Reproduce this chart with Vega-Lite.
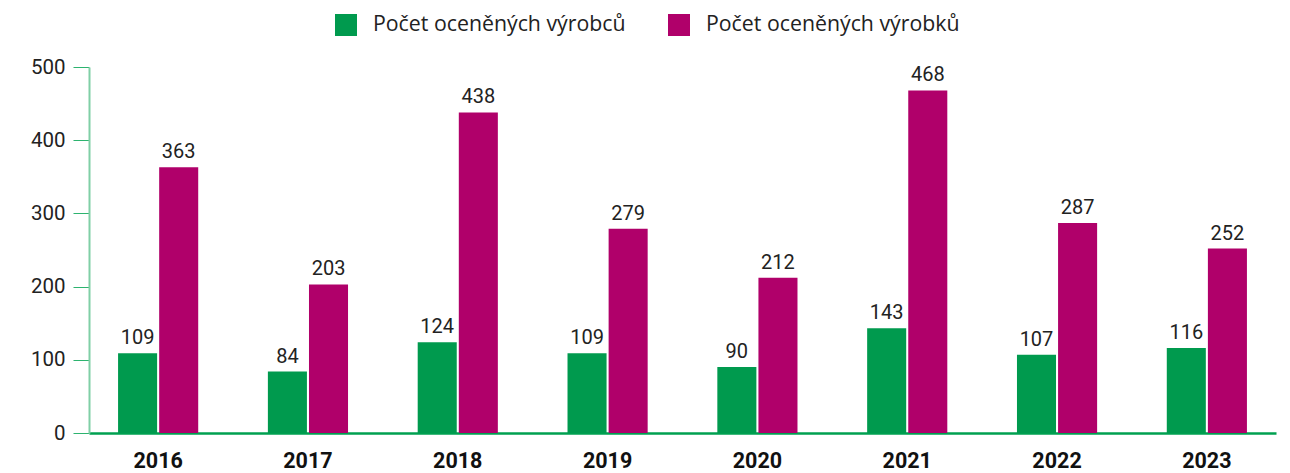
{
  "$schema": "https://vega.github.io/schema/vega-lite/v6.json",
  "width": 1187,
  "height": 366,
  "autosize": {"type": "none"},
  "padding": {"left": 89, "top": 67, "right": 14, "bottom": 40},
  "config": {
    "font": "Roboto",
    "view": {"stroke": null}
  },
  "data": {
    "values": [
      {"rok": "2016", "serie": "Počet oceněných výrobců", "pocet": 109},
      {"rok": "2016", "serie": "Počet oceněných výrobků", "pocet": 363},
      {"rok": "2017", "serie": "Počet oceněných výrobců", "pocet": 84},
      {"rok": "2017", "serie": "Počet oceněných výrobků", "pocet": 203},
      {"rok": "2018", "serie": "Počet oceněných výrobců", "pocet": 124},
      {"rok": "2018", "serie": "Počet oceněných výrobků", "pocet": 438},
      {"rok": "2019", "serie": "Počet oceněných výrobců", "pocet": 109},
      {"rok": "2019", "serie": "Počet oceněných výrobků", "pocet": 279},
      {"rok": "2020", "serie": "Počet oceněných výrobců", "pocet": 90},
      {"rok": "2020", "serie": "Počet oceněných výrobků", "pocet": 212},
      {"rok": "2021", "serie": "Počet oceněných výrobců", "pocet": 143},
      {"rok": "2021", "serie": "Počet oceněných výrobků", "pocet": 468},
      {"rok": "2022", "serie": "Počet oceněných výrobců", "pocet": 107},
      {"rok": "2022", "serie": "Počet oceněných výrobků", "pocet": 287},
      {"rok": "2023", "serie": "Počet oceněných výrobců", "pocet": 116},
      {"rok": "2023", "serie": "Počet oceněných výrobků", "pocet": 252}
    ]
  },
  "encoding": {
    "x": {
      "field": "rok", "type": "nominal", "title": null,
      "scale": {"paddingInner": 0.465, "paddingOuter": 0.194},
      "axis": {
        "labelAngle": 0, "labelFontSize": 21.5, "labelFontWeight": "bold", "labelColor": "#111",
        "labelPadding": 17, "ticks": false, "domainColor": "#00a050", "domainWidth": 2.5
      }
    },
    "xOffset": {
      "field": "serie", "type": "nominal",
      "sort": ["Počet oceněných výrobců", "Počet oceněných výrobků"],
      "scale": {"paddingInner": 0.05}
    },
    "y": {
      "field": "pocet", "type": "quantitative", "title": null,
      "scale": {"domain": [0, 500]},
      "axis": {
        "values": [0, 100, 200, 300, 400, 500], "grid": false,
        "labelFontSize": 20.5, "labelColor": "#222", "labelPadding": 8,
        "tickSize": 16, "tickColor": "#2db36f", "domainColor": "#80cfa6", "domainWidth": 2
      }
    }
  },
  "layer": [
    {
      "mark": {"type": "bar"},
      "encoding": {
        "color": {
          "field": "serie", "type": "nominal",
          "sort": ["Počet oceněných výrobců", "Počet oceněných výrobků"],
          "scale": {"domain": ["Počet oceněných výrobců", "Počet oceněných výrobků"], "range": ["#009a4e", "#b0006a"]},
          "legend": {
            "title": null, "orient": "none", "direction": "horizontal",
            "legendX": 246, "legendY": -53,
            "symbolType": "square", "symbolSize": 484, "symbolStrokeWidth": 0,
            "labelFont": "Open Sans", "labelFontSize": 21.3, "labelColor": "#222", "labelOffset": 16,
            "columnPadding": 42, "labelLimit": 400
          }
        }
      }
    },
    {
      "mark": {"type": "text", "baseline": "alphabetic", "dy": -9, "fontSize": 20, "color": "#222"},
      "encoding": {
        "text": {"field": "pocet", "type": "quantitative"}
      }
    }
  ]
}
